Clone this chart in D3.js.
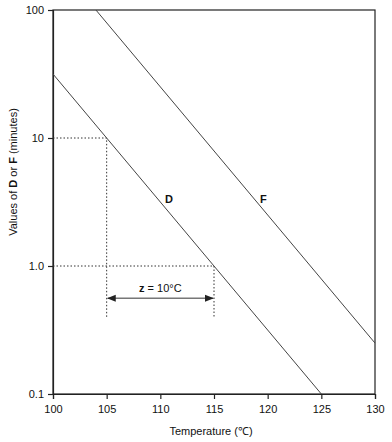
<!DOCTYPE html>
<html>
<head>
<meta charset="utf-8">
<script src="https://cdn.jsdelivr.net/npm/d3@7"></script>
<style>
  body { margin: 0; background: #fff; }
  svg text { font-family: Arial, "Liberation Sans", sans-serif; fill: #111; }
</style>
</head>
<body>
<div id="chart"></div>
<script>
// data
var xTicks = [100, 105, 110, 115, 120, 125, 130];
var yTicks = [100, 10, 1, 0.1];
var yTickLabels = ["100", "10", "1.0", "0.1"];
var lineD = [[100, 31.6], [125, 0.1]];
var lineF = [[104, 100], [130, 0.25]];
var guide10 = [[100, 10], [105, 10], [105, 0.39]];
var guide1 = [[100, 1], [115, 1], [115, 0.39]];
var zArrow = [105, 115];
var zLevel = 0.56;

var width = 392, height = 442;
var margin = {top: 10, right: 17, bottom: 48, left: 53};

var svg = d3.select("#chart").append("svg")
    .attr("width", width)
    .attr("height", height);

var x = d3.scaleLinear()
    .domain([100, 130])
    .range([margin.left, width - margin.right]);

var y = d3.scaleLog()
    .domain([0.1, 100])
    .range([height - margin.bottom, margin.top]);

var line = d3.line()
    .x(function(d){ return x(d[0]); })
    .y(function(d){ return y(d[1]); });

// frame
svg.append("rect")
    .attr("x", x(100))
    .attr("y", y(100))
    .attr("width", x(130) - x(100))
    .attr("height", y(0.1) - y(100))
    .attr("fill", "none")
    .attr("stroke", "#222")
    .attr("stroke-width", 1.2);

// axes
var xAxis = svg.append("g")
    .attr("transform", "translate(0," + y(0.1) + ")")
    .call(d3.axisBottom(x).tickValues(xTicks).tickSize(5).tickPadding(6).tickFormat(d3.format("d")));

var yAxis = svg.append("g")
    .attr("transform", "translate(" + x(100) + ",0)")
    .call(d3.axisLeft(y).tickValues(yTicks).tickSize(5).tickPadding(4)
        .tickFormat(function(d, i){ return yTickLabels[i]; }));

[xAxis, yAxis].forEach(function(g){
    g.select(".domain").attr("stroke", "#222").attr("stroke-width", 1.2);
    g.selectAll(".tick line").attr("stroke", "#222").attr("stroke-width", 1.2);
    g.selectAll(".tick text").attr("font-size", 11).attr("fill", "#111")
        .attr("font-family", "Arial, 'Liberation Sans', sans-serif");
});

// dotted guides
[guide10, guide1].forEach(function(g){
    svg.append("path")
        .attr("d", line(g))
        .attr("fill", "none")
        .attr("stroke", "#333")
        .attr("stroke-width", 1)
        .attr("stroke-dasharray", "1.5,2");
});

// D and F lines
[lineD, lineF].forEach(function(l){
    svg.append("path")
        .attr("d", line(l))
        .attr("fill", "none")
        .attr("stroke", "#444")
        .attr("stroke-width", 1);
});

// z arrow
svg.append("defs").append("marker")
    .attr("id", "arr")
    .attr("viewBox", "0 0 10 10")
    .attr("refX", 9).attr("refY", 5)
    .attr("markerWidth", 6).attr("markerHeight", 6)
    .attr("orient", "auto-start-reverse")
    .append("path")
    .attr("d", "M0,1 L10,5 L0,9 z")
    .attr("fill", "#222");

svg.append("line")
    .attr("x1", x(zArrow[0]) + 1)
    .attr("x2", x(zArrow[1]) - 1)
    .attr("y1", y(zLevel))
    .attr("y2", y(zLevel))
    .attr("stroke", "#777")
    .attr("stroke-width", 1.5)
    .attr("marker-start", "url(#arr)")
    .attr("marker-end", "url(#arr)");

var zt = svg.append("text")
    .attr("x", x((zArrow[0] + zArrow[1]) / 2))
    .attr("y", y(zLevel) - 6)
    .attr("text-anchor", "middle")
    .attr("font-size", 11);
zt.append("tspan").attr("font-weight", "bold").text("z");
zt.append("tspan").text(" = 10°C");

// line labels
svg.append("text")
    .attr("x", x(110.8)).attr("y", y(3.3)).attr("dy", "0.35em")
    .attr("font-size", 11).attr("font-weight", "bold")
    .attr("text-anchor", "middle")
    .text("D");
svg.append("text")
    .attr("x", x(119.6)).attr("y", y(3.3)).attr("dy", "0.35em")
    .attr("font-size", 11).attr("font-weight", "bold")
    .attr("text-anchor", "middle")
    .text("F");

// axis titles
svg.append("text")
    .attr("x", (x(100) + x(130)) / 2 - 3)
    .attr("y", height - 7)
    .attr("text-anchor", "middle")
    .attr("font-size", 11)
    .text("Temperature (℃)");

var yt = svg.append("text")
    .attr("transform", "translate(17," + 172 + ") rotate(-90)")
    .attr("text-anchor", "middle")
    .attr("font-size", 11);
yt.append("tspan").text("Values of ");
yt.append("tspan").attr("font-weight", "bold").text("D");
yt.append("tspan").text(" or ");
yt.append("tspan").attr("font-weight", "bold").text("F");
yt.append("tspan").text(" (minutes)");
</script>
</body>
</html>
